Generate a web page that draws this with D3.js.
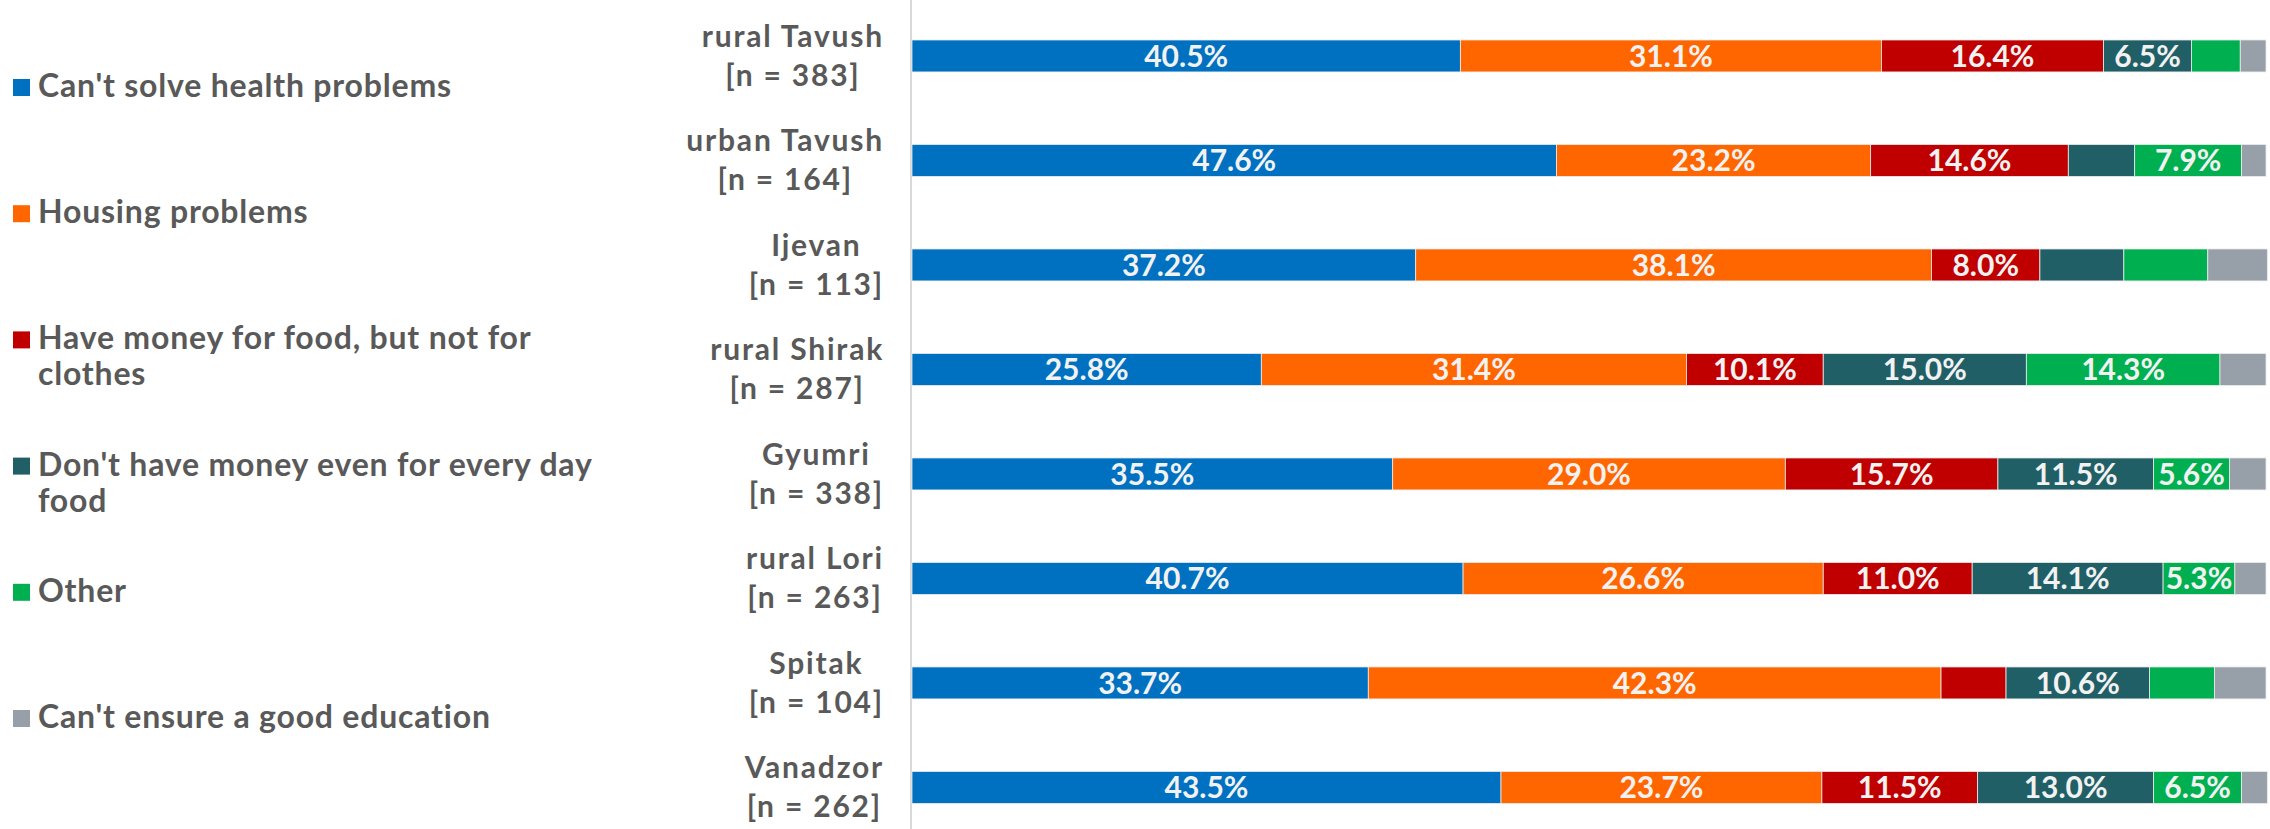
<!DOCTYPE html>
<html><head><meta charset="utf-8">
<script src="https://cdn.jsdelivr.net/npm/d3@7"></script>
<style>body{margin:0;background:#fff}</style>
</head><body>
<svg id="c" width="2270" height="829"></svg>
<script>
// ---- data ----
const categories = ["rural Tavush","urban Tavush","Ijevan","rural Shirak","Gyumri","rural Lori","Spitak","Vanadzor"];
const sampleSizes = [383,164,113,287,338,263,104,262];
const seriesNames = ["Can't solve health problems","Housing problems","Have money for food, but not for clothes","Don't have money even for every day food","Other","Can't ensure a good education"];
const healthProblems  = [40.5,47.6,37.2,25.8,35.5,40.7,33.7,43.5];
const housingProblems = [31.1,23.2,38.1,31.4,29.0,26.6,42.3,23.7];
const foodNotClothes  = [16.4,14.6,8.0,10.1,15.7,11.0,4.8,11.5];
const noEverydayFood  = [6.5,4.9,6.2,15.0,11.5,14.1,10.6,13.0];
const otherReason     = [3.6,7.9,6.2,14.3,5.6,5.3,4.8,6.5];
const noEducation     = [1.9,1.8,4.4,3.4,2.7,2.3,3.8,1.9];
const seriesColors = ["#0070C0","#FF6600","#C00000","#215F67","#00B050","#979FA8"];
// labels shown in the reference: value >= 5, except these (category, series index)
const unlabeled = [["Ijevan",3],["Ijevan",4]];

const seriesValues = [healthProblems,housingProblems,foodNotClothes,noEverydayFood,otherReason,noEducation];
const rows = categories.map((c,i)=>{
  const r = {category:c, n:sampleSizes[i]};
  seriesNames.forEach((s,j)=> r[s] = seriesValues[j][i]);
  return r;
});

const W = 2270, H = 829;
const svg = d3.select("#c");
const FONT = "Lato, 'Open Sans', sans-serif";
const TXT = "#595959";

const x = d3.scaleLinear().domain([0,100]).range([912,2266]);
const y = d3.scaleBand().domain(categories).range([3.4,840]).paddingInner(0.694).paddingOuter(0.35);

const stacked = d3.stack().keys(seriesNames)(rows);

// vertical category axis line
svg.append("line")
  .attr("x1",x(0)-1).attr("x2",x(0)-1).attr("y1",0).attr("y2",H)
  .attr("stroke","#d9d9d9").attr("stroke-width",2);

const layers = svg.append("g").selectAll("g").data(stacked).join("g")
  .attr("fill",(d,i)=>seriesColors[i]);

layers.selectAll("rect").data(d=>d).join("rect")
  .attr("x",d=>x(d[0]))
  .attr("width",d=>x(d[1])-x(d[0]))
  .attr("y",d=>y(d.data.category))
  .attr("height",y.bandwidth())
  .attr("stroke","#ececec").attr("stroke-width",0.8);

// value labels
const isShown = (cat, si, v) => v >= 5 && !unlabeled.some(u=>u[0]===cat && u[1]===si);
stacked.forEach((layer,si)=>{
  svg.append("g").selectAll("text")
    .data(layer.filter(d=>isShown(d.data.category, si, d[1]-d[0])))
    .join("text")
    .attr("x",d=>(x(d[0])+x(d[1]))/2)
    .attr("y",d=>y(d.data.category)+y.bandwidth()/2+11)
    .attr("text-anchor","middle")
    .attr("font-family",FONT).attr("font-weight","bold").attr("font-size",30)
    .attr("fill","#f2f2f2")
    .text(d=>d3.format(".1f")(d[1]-d[0])+"%");
});

// category labels (two lines, centred block, right-aligned to the axis)
const catG = svg.append("g");
rows.forEach(r=>{
  const cy = y(r.category)+y.bandwidth()/2;
  const lines = [r.category, `[n = ${r.n}]`];
  const ts = lines.map((l,k)=> catG.append("text")
    .attr("font-family",FONT).attr("font-weight","bold").attr("font-size",30)
    .attr("letter-spacing","1.8px").attr("fill",TXT)
    .attr("text-anchor","middle")
    .attr("y", cy + (k===0 ? -9 : 30))
    .text(l));
  const wmax = d3.max(ts, t=>t.node().getComputedTextLength());
  const cx = 884 - wmax/2;
  ts.forEach(t=>t.attr("x",cx));
});

// legend
const legY0 = 97, legStep = 126.2, legLine = 36, legMax = 570;
const legG = svg.append("g");
seriesNames.forEach((s,i)=>{
  const by = legY0 + i*legStep;
  legG.append("rect").attr("x",13).attr("y",by-18).attr("width",17).attr("height",17).attr("fill",seriesColors[i]);
  const t = legG.append("text").attr("x",38).attr("y",by)
    .attr("font-family",FONT).attr("font-weight","bold").attr("font-size",32)
    .attr("letter-spacing","0.8px").attr("fill",TXT);
  const words = s.split(" ");
  let line = [], ln = 0;
  let tspan = t.append("tspan").attr("x",38).attr("y",by);
  words.forEach(w=>{
    line.push(w);
    tspan.text(line.join(" "));
    if (tspan.node().getComputedTextLength() > legMax && line.length>1){
      line.pop(); tspan.text(line.join(" "));
      line = [w]; ln++;
      tspan = t.append("tspan").attr("x",38).attr("y",by+ln*legLine).text(w);
    }
  });
});
</script>
</body></html>
